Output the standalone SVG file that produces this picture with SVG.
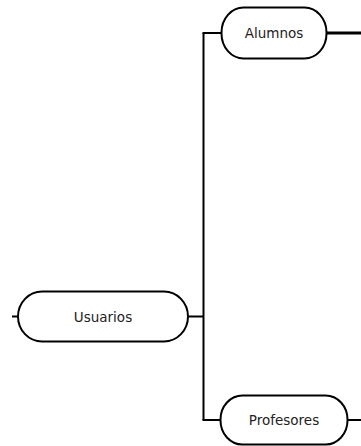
<svg xmlns="http://www.w3.org/2000/svg" width="361" height="446" viewBox="0 0 361 446">
<style>
.node rect{fill:#fff;stroke:#000;stroke-width:2}
.node text{font-family:"DejaVu Sans",sans-serif;font-size:13.5px;fill:#222;text-anchor:middle;dominant-baseline:central}
.conn path{fill:none;stroke:#000;stroke-width:2}
</style>
<g id="connectors" class="conn">
<path d="M12 316.5H18"/>
<path d="M187 316.5H203.5"/>
<path d="M203.5 33V420"/>
<path d="M202.5 33H222"/>
<path d="M202.5 420H221"/>
<path d="M326 33H361" style="stroke-width:3"/>
<path d="M347 420H361"/>
</g>
<g id="usuarios" class="node">
<rect x="18" y="291.5" width="170" height="50" rx="24" ry="25"/>
<text x="103" y="317">Usuarios</text>
</g>
<g id="alumnos" class="node">
<rect x="221.5" y="7.5" width="105" height="51" rx="22" ry="25"/>
<text x="274" y="33">Alumnos</text>
</g>
<g id="profesores" class="node">
<rect x="220.5" y="395.5" width="127" height="49" rx="22" ry="24"/>
<text x="284" y="420">Profesores</text>
</g>
</svg>
